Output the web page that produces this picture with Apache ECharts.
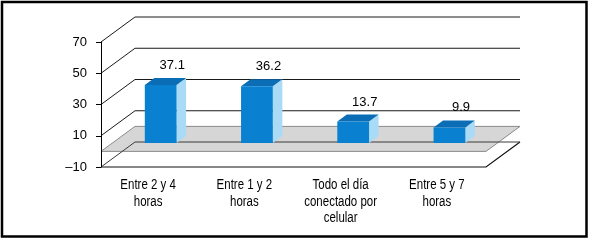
<!DOCTYPE html>
<html>
<head>
<meta charset="utf-8">
<script src="https://cdn.jsdelivr.net/npm/echarts@6/dist/echarts.min.js"></script>
<style>
  html, body { margin: 0; padding: 0; background: #fff; }
  #chart { width: 589px; height: 241px; }
</style>
</head>
<body>
<div id="chart"></div>
<script>
// datos del grafico
var categories = ['Entre 2 y 4\nhoras', 'Entre 1 y 2\nhoras', 'Todo el día\nconectado por\ncelular', 'Entre 5 y 7\nhoras']
var values = [37.1, 36.2, 13.7, 9.9]
var yTicks = [-10, 10, 30, 50, 70]
var floorValue = 0

// profundidad del efecto 3D
var DX = 34
var DY = -25
var F1 = 0.34 // cara frontal de la barra
var F2 = 0.62 // cara trasera
var FONT = 'Liberation Sans, Arial, sans-serif'

var myChart = echarts.init(document.getElementById('chart'))

// paredes, lineas de division y plano gris en 0
function wallItem (params, api) {
  var cs = params.coordSys
  var v = api.value(0)
  var y = api.coord([0, v])[1]
  var x0 = cs.x
  var x1 = cs.x + cs.width
  var children = []
  if (v === yTicks[0]) {
    var yf = api.coord([0, floorValue])[1]
    children.push({ type: 'polygon',
      shape: { points: [[x0, yf], [x1, yf], [x1 + DX, yf + DY], [x0 + DX, yf + DY]] },
      style: { fill: '#d6d6d6', stroke: '#8a8a8a', lineWidth: 1 } })
    children.push({ type: 'polyline', shape: { points: [[x0, y], [x1, y], [x1 + DX, y + DY]] },
      style: { stroke: '#111', lineWidth: 1.2, fill: null } })
  }
  children.push({ type: 'polyline', shape: { points: [[x0, y], [x0 + DX, y + DY], [x1 + DX, y + DY]] },
    style: { stroke: v === yTicks[0] ? '#3a3a3a' : '#1a1a1a', lineWidth: 1, fill: null } })
  return { type: 'group', children: children }
}

function labelItem (params, api) {
  var i = api.value(0)
  var p = api.coord([i, yTicks[0]])
  return {
    type: 'text',
    x: p[0] - 1,
    y: p[1] + 10,
    scaleX: 0.82,
    style: { text: categories[i], fill: '#000', font: '14px ' + FONT,
      align: 'center', verticalAlign: 'top', lineHeight: 16.5 }
  }
}

function barItem (params, api) {
  var i = api.value(0)
  var v = api.value(1)
  var top = api.coord([i, v])
  var base = api.coord([i, 0])
  var hw = api.size([1, 0])[0] * 0.165
  var l = top[0] - hw + F1 * DX
  var r = top[0] + hw + F1 * DX
  var yt = top[1] + F1 * DY
  var yb = base[1] + F1 * DY
  var ox = (F2 - F1) * DX
  var oy = (F2 - F1) * DY
  return {
    type: 'group',
    children: [
      { type: 'polygon', shape: { points: [[r, yt], [r + ox, yt + oy], [r + ox, yb + oy], [r, yb]] },
        style: { fill: '#aadbf6' } },
      { type: 'polygon', shape: { points: [[l, yt], [r, yt], [r + ox, yt + oy], [l + ox, yt + oy]] },
        style: { fill: '#0b6db6' } },
      { type: 'rect', shape: { x: l, y: yt, width: r - l, height: yb - yt },
        style: { fill: '#0a80d0' } },
      { type: 'text', x: (l + r) / 2 + ox + 2, y: yt + oy - 6,
        style: { text: String(v), fill: '#000', font: '13px ' + FONT,
          align: 'center', verticalAlign: 'bottom' } }
    ]
  }
}

myChart.setOption({
  animation: false,
  grid: { left: 101, top: 42, width: 385, height: 125 },
  graphic: [
    { type: 'rect', shape: { x: 2, y: 2, width: 584.5, height: 234.5 },
      style: { fill: null, stroke: '#000', lineWidth: 2.5 } }
  ],
  xAxis: {
    type: 'category',
    data: categories,
    axisLine: { show: false },
    axisTick: { show: false },
    axisLabel: { show: false }
  },
  yAxis: {
    type: 'value',
    min: -10,
    max: 70,
    interval: 20,
    z: 6,
    axisLine: { show: true, lineStyle: { color: '#000', width: 1 } },
    axisTick: { show: true, length: 5, lineStyle: { color: '#000' } },
    splitLine: { show: false },
    axisLabel: {
      margin: 14,
      color: '#000',
      fontSize: 13,
      fontFamily: FONT,
      formatter: function (v) { return String(v).replace('-', '\u2013') }
    }
  },
  series: [
    {
      type: 'custom',
      name: 'pared',
      renderItem: wallItem,
      data: yTicks.map(function (t) { return [t] }),
      z: 1,
      silent: true
    },
    {
      type: 'custom',
      name: 'categorias',
      renderItem: labelItem,
      data: categories.map(function (c, i) { return [i] }),
      z: 2,
      silent: true
    },
    {
      type: 'custom',
      name: 'valores',
      renderItem: barItem,
      data: values.map(function (v, i) { return [i, v] }),
      z: 3
    }
  ]
})
</script>
</body>
</html>
